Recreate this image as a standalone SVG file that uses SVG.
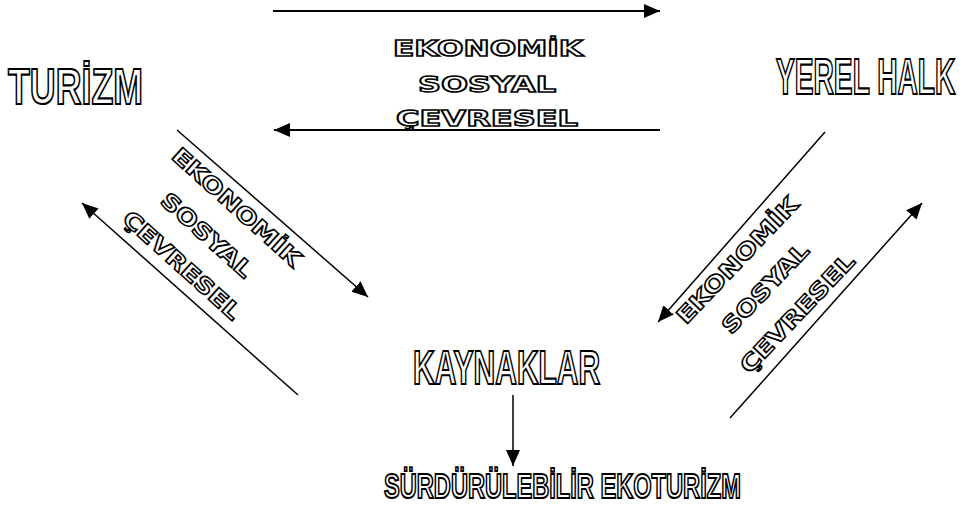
<svg xmlns="http://www.w3.org/2000/svg" width="967" height="511" viewBox="0 0 967 511">
  <defs>
    <marker id="ah" markerUnits="userSpaceOnUse" markerWidth="17" markerHeight="15" refX="16" refY="7" orient="auto">
      <path d="M0,0 L16,7 L0,14 z" fill="#000"/>
    </marker>
    <style>
      .big { font-family: "Liberation Sans", Arial, sans-serif; font-weight: bold; fill: #fff; stroke: #000; stroke-width: 1.8; vector-effect: non-scaling-stroke; }
      .small { font-family: "DejaVu Sans", "Liberation Sans", sans-serif; font-weight: bold; font-size: 22px; fill: #fff; stroke: #000; stroke-width: 1.5; text-anchor: middle; }
      .conn { stroke: #000; fill: none; marker-end: url(#ah); }
      .h { stroke-width: 2; }
      .d { stroke-width: 1.5; }
    </style>
  </defs>
  <rect width="967" height="511" fill="#fff"/>

  <g id="connectors">
    <line class="conn h" x1="273" y1="11" x2="660" y2="11"/>
    <line class="conn h" x1="660" y1="130" x2="274" y2="130"/>
    <line class="conn d" x1="177" y1="130" x2="368" y2="297"/>
    <line class="conn d" x1="298" y1="395" x2="82" y2="203"/>
    <line class="conn d" x1="825" y1="132" x2="658" y2="322"/>
    <line class="conn d" x1="730" y1="418" x2="922" y2="203"/>
    <line class="conn d" x1="513" y1="395" x2="513" y2="466"/>
  </g>

  <g id="connector-labels">
    <g id="label-top">
      <text class="small" x="488" y="56" textLength="190" lengthAdjust="spacingAndGlyphs">EKONOMİK</text>
      <text class="small" x="487" y="92" textLength="138" lengthAdjust="spacingAndGlyphs">SOSYAL</text>
      <text class="small" x="487" y="126" textLength="182" lengthAdjust="spacingAndGlyphs">ÇEVRESEL</text>
    </g>
    <g id="label-left">
      <text class="small" transform="translate(237,207) rotate(42)" x="0" y="8" textLength="165" lengthAdjust="spacingAndGlyphs">EKONOMİK</text>
      <text class="small" transform="translate(207,235) rotate(42)" x="0" y="8" textLength="115" lengthAdjust="spacingAndGlyphs">SOSYAL</text>
      <text class="small" transform="translate(182,265) rotate(42)" x="0" y="8" textLength="150" lengthAdjust="spacingAndGlyphs">ÇEVRESEL</text>
    </g>
    <g id="label-right">
      <text class="small" transform="translate(737,260) rotate(-46.5)" x="0" y="8" textLength="165" lengthAdjust="spacingAndGlyphs">EKONOMİK</text>
      <text class="small" transform="translate(765,288) rotate(-46.5)" x="0" y="8" textLength="115" lengthAdjust="spacingAndGlyphs">SOSYAL</text>
      <text class="small" transform="translate(797,313) rotate(-46.5)" x="0" y="8" textLength="155" lengthAdjust="spacingAndGlyphs">ÇEVRESEL</text>
    </g>
  </g>

  <g id="turizm">
    <text class="big" transform="translate(8,104) scale(0.715,1)" x="0" y="0" font-size="50">TURİZM</text>
  </g>
  <g id="yerel-halk">
    <text class="big" transform="translate(776,94) scale(0.563,1)" x="0" y="0" font-size="50">YEREL HALK</text>
  </g>
  <g id="kaynaklar">
    <text class="big" transform="translate(413,384) scale(0.625,1)" x="0" y="0" font-size="48">KAYNAKLAR</text>
  </g>
  <g id="ekoturizm">
    <text class="big" transform="translate(384,498) scale(0.675,1)" x="0" y="0" font-size="35">SÜRDÜRÜLEBİLİR EKOTURİZM</text>
  </g>
</svg>
